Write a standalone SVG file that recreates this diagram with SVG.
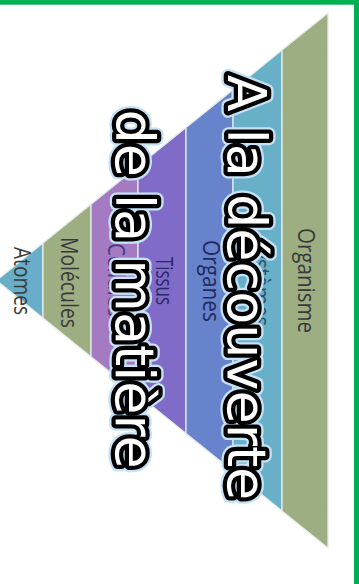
<svg xmlns="http://www.w3.org/2000/svg" width="359" height="584" viewBox="0 0 359 584">
  <style>
    .band { stroke: #e4ece6; stroke-width: 1.3; stroke-linejoin: miter; }
    .lbl { font-family: "Open Sans", "Liberation Sans", sans-serif; font-size: 23px; text-anchor: middle; }
    .ttl { font-family: "DejaVu Sans", "Liberation Sans", sans-serif; font-size: 54px; text-anchor: middle; }
    .glow { fill: none; stroke: #c6e2f6; stroke-width: 13; stroke-linejoin: round; }
    .outl { fill: #ffffff; stroke: #000000; stroke-width: 8.5; stroke-linejoin: round; paint-order: stroke; }
  </style>
  <rect x="0" y="0" width="359" height="584" fill="#ffffff"/>
  <g id="frame">
    <rect x="0" y="0" width="359" height="4.7" fill="#00b050"/>
    <rect x="354" y="0" width="5" height="584" fill="#00b050"/>
  </g>
  <g id="connectors"></g>
  <g id="layer-atomes">
    <polygon class="band" points="-3.5,280.5 43,243 43,318" fill="#68aec8"/>
    <text class="lbl" fill="#3a3a3a" transform="translate(14,281) rotate(90)" textLength="68" lengthAdjust="spacingAndGlyphs">Atomes</text>
  </g>
  <g id="layer-molecules">
    <polygon class="band" points="43,243 91,204.2 91,356.8 43,318" fill="#9cae82"/>
    <text class="lbl" fill="#3a3a3a" transform="translate(61,282.5) rotate(90)" textLength="91" lengthAdjust="spacingAndGlyphs">Molécules</text>
  </g>
  <g id="layer-cellules">
    <polygon class="band" points="91,204.2 138,166.3 138,394.7 91,356.8" fill="#a47bc3"/>
    <text class="lbl" fill="#4a3a80" transform="translate(108,280) rotate(90)" textLength="74" lengthAdjust="spacingAndGlyphs">Cellules</text>
  </g>
  <g id="layer-tissus">
    <polygon class="band" points="138,166.3 186,127.6 186,433.4 138,394.7" fill="#806bc9"/>
    <text class="lbl" fill="#2b2a68" transform="translate(156,281) rotate(90)" textLength="48" lengthAdjust="spacingAndGlyphs">Tissus</text>
  </g>
  <g id="layer-organes">
    <polygon class="band" points="186,127.6 233,89.7 233,471.3 186,433.4" fill="#6683cc"/>
    <text class="lbl" fill="#1f2a5e" transform="translate(203,281) rotate(90)" textLength="82" lengthAdjust="spacingAndGlyphs">Organes</text>
  </g>
  <g id="layer-systemes">
    <polygon class="band" points="233,89.7 282,50.1 282,510.9 233,471.3" fill="#68afc8"/>
    <text class="lbl" fill="#2f5366" transform="translate(253,282) rotate(90)" textLength="88" lengthAdjust="spacingAndGlyphs">Systèmes</text>
  </g>
  <g id="layer-organisme">
    <polygon class="band" points="282,50.1 328,13 328,548 282,510.9" fill="#9cae82"/>
    <text class="lbl" fill="#3a3a3a" transform="translate(298,280.5) rotate(90)" textLength="105" lengthAdjust="spacingAndGlyphs">Organisme</text>
  </g>
  <g id="title">
    <text class="ttl glow" transform="translate(228,287.5) rotate(90)">A la découverte</text>
    <text class="ttl outl" transform="translate(228,287.5) rotate(90)">A la découverte</text>
    <text class="ttl glow" transform="translate(116,289) rotate(90)">de la matière</text>
    <text class="ttl outl" transform="translate(116,289) rotate(90)">de la matière</text>
  </g>
</svg>
